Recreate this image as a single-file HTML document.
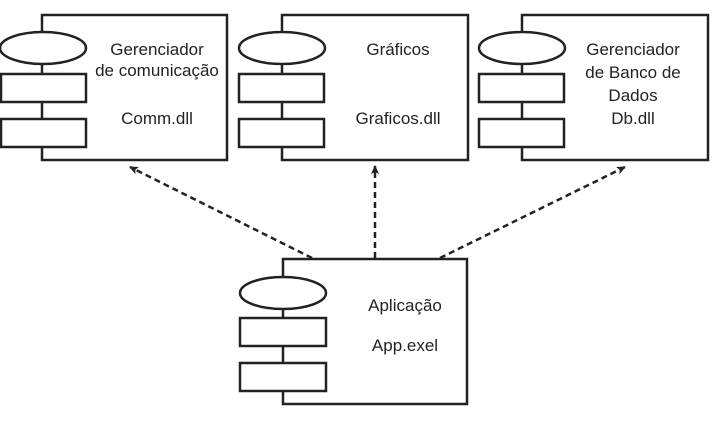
<!DOCTYPE html>
<html><head><style>body{margin:0;background:#fff}svg{display:block}text{font-family:"Liberation Sans",sans-serif;font-size:17px;fill:#222;text-anchor:middle}</style></head>
<body>
<svg width="721" height="424" viewBox="0 0 721 424" xmlns="http://www.w3.org/2000/svg">
<defs><marker id="a" markerUnits="userSpaceOnUse" markerWidth="10" markerHeight="10" refX="8" refY="5" orient="auto"><path d="M0,1 L9,5 L0,9 L2,5z" fill="#222"/></marker></defs>
<g stroke="#222" stroke-width="2.5" fill="#fff">
<rect x="42" y="15" width="185" height="145"/>
<ellipse cx="43" cy="48" rx="43" ry="16"/><rect x="1" y="74" width="85" height="28"/><rect x="1" y="119" width="85" height="28"/>
<rect x="282" y="15" width="186" height="145"/>
<ellipse cx="282" cy="48" rx="43" ry="16"/><rect x="239" y="74" width="85" height="28"/><rect x="239" y="119" width="85" height="28"/>
<rect x="522" y="15" width="186" height="145"/>
<ellipse cx="522" cy="48" rx="43" ry="16"/><rect x="479" y="74" width="85" height="28"/><rect x="479" y="119" width="85" height="28"/>
<rect x="283" y="259" width="184" height="145"/>
<ellipse cx="283" cy="293" rx="43" ry="16"/><rect x="240" y="318" width="86" height="28"/><rect x="240" y="363" width="86" height="28"/>
</g>
<g stroke="#222" stroke-width="2.5" stroke-dasharray="6,4" fill="none" marker-end="url(#a)">
<line x1="312" y1="258" x2="130" y2="167"/>
<line x1="375" y1="258" x2="375" y2="166"/>
<line x1="440" y1="258" x2="625" y2="167"/>
</g>
<text x="157" y="55">Gerenciador</text><text x="157" y="76">de comunicação</text><text x="157" y="124">Comm.dll</text>
<text x="398" y="55">Gráficos</text><text x="398" y="124">Graficos.dll</text>
<text x="633" y="55">Gerenciador</text><text x="633" y="78">de Banco de</text><text x="633" y="101">Dados</text><text x="633" y="124">Db.dll</text>
<text x="405" y="311">Aplicação</text><text x="405" y="351">App.exel</text>
</svg>
</body></html>
